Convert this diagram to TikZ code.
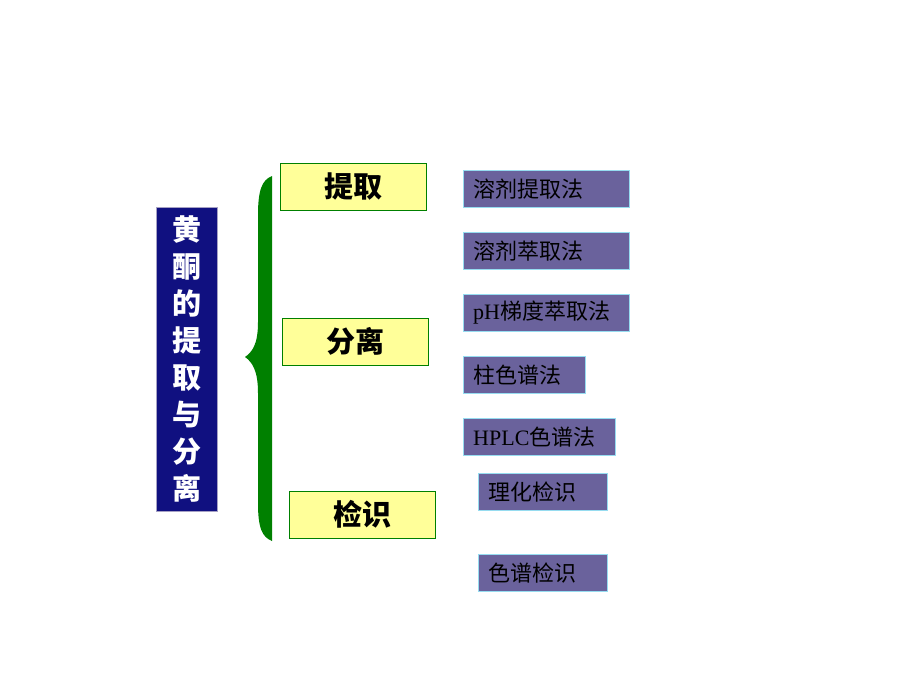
\documentclass[tikz,border=0pt]{standalone}
\usepackage{fontspec}
\setmainfont{Liberation Serif}
\newfontfamily\cjk{Noto Sans CJK SC}
\definecolor{navy}{RGB}{16,16,128}
\definecolor{lila}{RGB}{106,98,156}
\definecolor{edge}{RGB}{150,220,240}
\definecolor{pale}{RGB}{255,255,153}
\definecolor{leaf}{RGB}{0,128,0}
\tikzset{
	title/.style={draw=lila!60, fill=navy, text=white, minimum width=61pt, minimum height=304pt, align=center, font=\cjk\bfseries\fontsize{29}{37}\selectfont},
	topic/.style={draw=leaf, fill=pale, minimum width=146pt, minimum height=47pt, font=\cjk\bfseries\fontsize{29}{30}\selectfont},
	method/.style={draw=edge, fill=lila, anchor=west, minimum height=37pt, inner xsep=10pt, text width=#1, align=left, font=\fontsize{22}{24}\selectfont},
}
\begin{document}
\begin{tikzpicture}[x=1pt, y=-1pt]
	\useasboundingbox (0,0) rectangle (920,690);
	\node[title] (head) at (186.5,359) {黄\\酮\\的\\提\\取\\与\\分\\离};
	\fill[leaf] (272,176) .. controls (262,180) and (258,190) .. (258,215) -- (258,322) .. controls (258,345) and (252,352) .. (245,357) .. controls (252,362) and (258,370) .. (258,393) -- (258,503) .. controls (258,528) and (262,537) .. (272,541) -- cycle;
	\node[topic] (extract) at (353.5,186.5) {提取};
	\node[topic] (separate) at (355,341.5) {分离};
	\node[topic] (identify) at (362,514.5) {检识};
	\node[method=146pt] (solvent) at (463,189) {\cjk 溶剂提取法};
	\node[method=146pt] (partition) at (463,251) {\cjk 溶剂萃取法};
	\node[method=146pt] (gradient) at (463,313) {pH{\cjk 梯度萃取法}};
	\node[method=102pt] (column) at (463,375) {\cjk 柱色谱法};
	\node[method=132pt] (hplc) at (463,437) {HPLC{\cjk 色谱法}};
	\node[method=109pt] (physchem) at (478,492) {\cjk 理化检识};
	\node[method=109pt] (chroma) at (478,573) {\cjk 色谱检识};
\end{tikzpicture}
\end{document}
